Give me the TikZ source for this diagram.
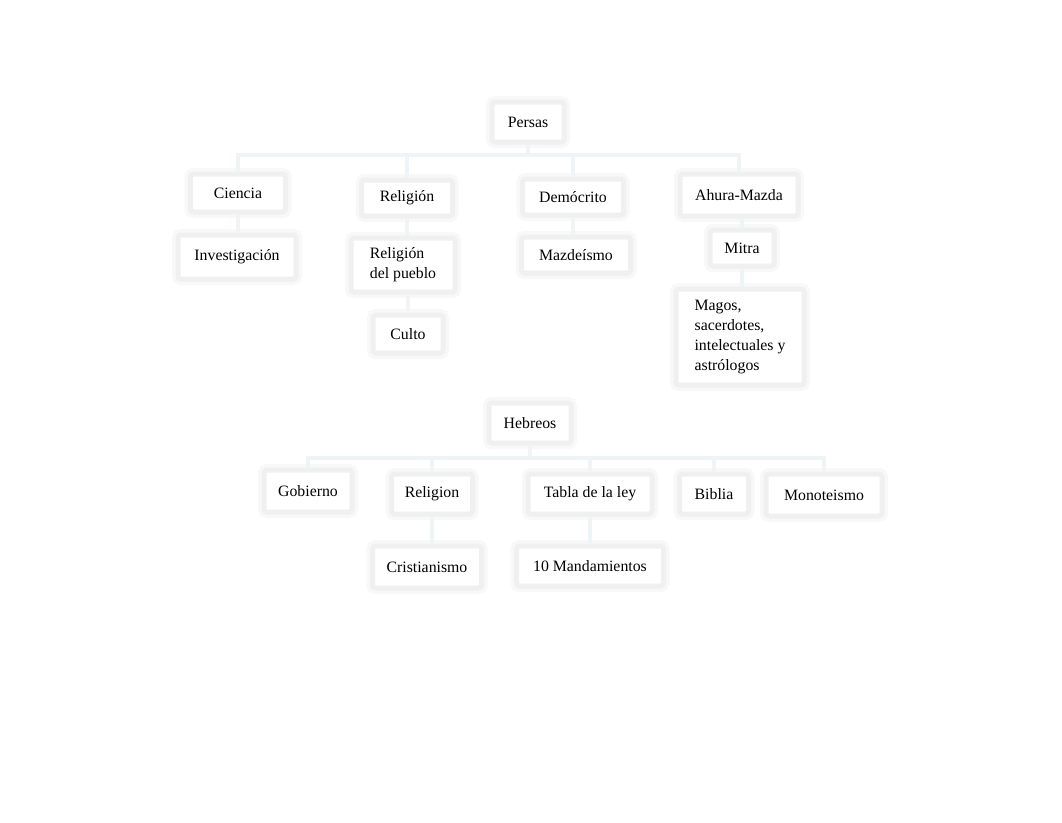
\documentclass[tikz,border=0pt]{standalone}
\usepackage{fontspec}
\setmainfont{Liberation Serif}
\definecolor{conn}{RGB}{239,244,247}
\definecolor{boxedge}{RGB}{240,240,240}
\definecolor{boxhalo}{RGB}{248,248,248}
\tikzset{
  box/.style={draw=boxedge, line width=5pt, fill=white, rounded corners=3pt,
    preaction={draw=boxhalo, line width=12pt},
    inner sep=0pt, font=\fontsize{15.8}{20}\selectfont, text=black},
  link/.style={draw=conn, line width=4pt},
}
\begin{document}
\begin{tikzpicture}[x=1pt,y=-1pt]
\useasboundingbox (0,0) rectangle (1062,822);
\fill[white] (0,0) rectangle (1062,822);
% Persas
\node[box, minimum width=72pt, minimum height=40pt] (persas) at (528,122) {Persas};
\node[box, minimum width=95pt, minimum height=38pt] (ciencia) at (238,193) {Ciencia};
\node[box, minimum width=91pt, minimum height=36pt] (religion) at (407,198) {Religión};
\node[box, minimum width=101pt, minimum height=36pt] (democrito) at (573,197) {Demócrito};
\node[box, minimum width=118pt, minimum height=42pt] (ahura) at (739,195) {Ahura-Mazda};
\node[box, minimum width=118pt, minimum height=44pt] (investigacion) at (237,257) {Investigación};
\node[box, minimum width=104pt, minimum height=54pt, align=left] (pueblo) at (403,265) {Religión\\del pueblo};
\node[box, minimum width=70pt, minimum height=38pt] (culto) at (408,334) {Culto};
\node[box, minimum width=109pt, minimum height=36pt] (mazdeismo) at (576,255) {Mazdeísmo};
\node[box, minimum width=64pt, minimum height=36pt] (mitra) at (742,248) {Mitra};
\node[box, minimum width=128pt, minimum height=96pt, align=left] (magos) at (740,337) {Magos,\\sacerdotes,\\intelectuales y\\astrólogos};
% Hebreos
\node[box, minimum width=82pt, minimum height=40pt] (hebreos) at (530,423) {Hebreos};
\node[box, minimum width=88pt, minimum height=42pt] (gobierno) at (308,491) {Gobierno};
\node[box, minimum width=81pt, minimum height=40pt] (religion2) at (432,494) {Religion};
\node[box, minimum width=124pt, minimum height=40pt] (tabla) at (590,494) {Tabla de la ley};
\node[box, minimum width=69pt, minimum height=40pt] (biblia) at (714,494) {Biblia};
\node[box, minimum width=116pt, minimum height=42pt] (monoteismo) at (824,495) {Monoteismo};
\node[box, minimum width=109pt, minimum height=42pt] (cristianismo) at (427,567) {Cristianismo};
\node[box, minimum width=147pt, minimum height=40pt] (mandamientos) at (590,566) {10 Mandamientos};
% connectors
\draw[link] (persas.south) -- ++(0,10) -| (ciencia.north);
\draw[link] (persas.south) -- ++(0,10) -| (religion.north);
\draw[link] (persas.south) -- ++(0,10) -| (democrito.north);
\draw[link] (persas.south) -- ++(0,10) -| (ahura.north);
\draw[link] (ciencia.south) -- (ciencia.south |- investigacion.north);
\draw[link] (religion.south) -- (religion.south |- pueblo.north);
\draw[link] (pueblo.south -| culto.north) -- (culto.north);
\draw[link] (democrito.south) -- (democrito.south |- mazdeismo.north);
\draw[link] (mitra.north) -- (mitra.north |- ahura.south);
\draw[link] (mitra.south) -- (mitra.south |- magos.north);
\draw[link] (hebreos.south) -- ++(0,12) -| (gobierno.north);
\draw[link] (hebreos.south) -- ++(0,12) -| (religion2.north);
\draw[link] (hebreos.south) -- ++(0,12) -| (tabla.north);
\draw[link] (hebreos.south) -- ++(0,12) -| (biblia.north);
\draw[link] (hebreos.south) -- ++(0,12) -| (monoteismo.north);
\draw[link] (religion2.south) -- (religion2.south |- cristianismo.north);
\draw[link] (tabla.south) -- (tabla.south |- mandamientos.north);
\end{tikzpicture}
\end{document}
